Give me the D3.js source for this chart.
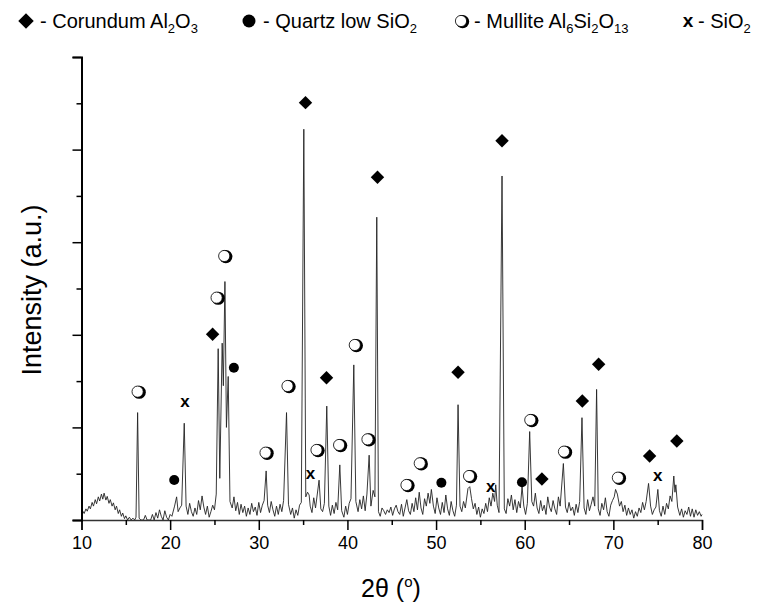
<!DOCTYPE html>
<meta charset="utf-8">
<style>
body { margin: 0; background: #fff; }
svg { font-family: "Liberation Sans", Arial, sans-serif; }
</style>
<svg width="762" height="606"></svg>
<script src="https://cdn.jsdelivr.net/npm/d3@7"></script>
<script>

// XRD scan, [2theta, intensity]
var scan = [
  [10.0,70],[10.15,95],[10.3,70],[10.5,120],[10.65,95],[10.85,150],[11.0,120],[11.2,190],[11.35,150],[11.55,220],
  [11.7,175],[11.9,250],[12.05,205],[12.25,280],[12.4,225],[12.55,290],[12.75,215],[12.9,255],[13.1,180],[13.25,220],
  [13.45,150],[13.6,185],[13.8,110],[13.95,150],[14.15,70],[14.3,110],[14.5,40],[14.65,75],[14.85,15],[15.0,45],
  [15.2,0],[15.4,30],[15.6,0],[15.8,20],
  [16.0,0],[16.15,30],[16.33,1160],[16.5,20],[16.7,0],[17.0,0],[17.2,50],[17.4,0],[17.8,0],[18.0,60],
  [18.2,0],[18.4,80],[18.6,20],[18.8,110],[19.0,40],[19.2,0],[19.4,100],[19.6,30],[19.8,0],[20.0,60],
  [20.2,40],[20.5,150],[20.73,250],[20.9,90],[21.1,130],[21.3,160],[21.59,1045],[21.8,150],[22.0,60],[22.2,180],
  [22.4,90],[22.6,40],[22.8,130],[23.0,60],[23.2,210],[23.4,110],[23.6,260],[23.8,140],[24.0,60],[24.2,150],
  [24.4,30],[24.6,90],[24.8,160],[25.0,110],[25.2,280],[25.42,1850],[25.6,450],[25.87,1910],[26.0,1450],[26.18,2575],
  [26.35,1000],[26.55,1550],[26.75,200],[27.0,130],[27.2,250],[27.4,100],[27.6,190],[27.8,60],[28.0,170],[28.2,80],
  [28.4,150],[28.6,40],[28.8,130],[29.0,60],[29.2,180],[29.4,90],[29.6,140],[29.8,50],[30.0,190],[30.2,80],
  [30.4,160],[30.6,210],[30.83,530],[31.0,160],[31.2,80],[31.4,200],[31.6,110],[31.8,40],[32.0,150],[32.2,60],
  [32.4,170],[32.6,90],[32.8,210],[33.13,1160],[33.35,170],[33.6,60],[33.8,130],[34.0,20],[34.2,110],[34.4,50],
  [34.6,160],[34.8,190],[35.08,4220],[35.3,250],[35.5,300],[35.68,270],[35.8,150],[36.0,80],[36.2,240],[36.4,130],
  [36.8,430],[37.0,120],[37.2,90],[37.4,180],[37.67,1230],[37.9,150],[38.1,50],[38.3,160],[38.5,70],[38.7,190],
  [38.9,110],[39.14,595],[39.35,100],[39.6,30],[39.8,150],[40.0,60],[40.2,180],[40.4,230],[40.72,1675],[40.95,200],
  [41.2,90],[41.4,220],[41.6,120],[41.8,260],[42.0,100],[42.2,280],[42.45,700],[42.65,150],[42.9,320],[43.1,250],
  [43.31,3270],[43.5,90],[43.7,40],[43.9,130],[44.1,100],[44.3,60],[44.5,110],[44.7,80],[44.9,140],[45.1,50],
  [45.3,120],[45.5,160],[45.7,90],[45.9,60],[46.1,170],[46.3,40],[46.5,130],[46.7,220],[46.9,100],[47.1,60],
  [47.3,180],[47.5,90],[47.7,240],[47.9,110],[48.1,300],[48.3,130],[48.5,60],[48.7,230],[48.9,150],[49.1,290],
  [49.3,180],[49.47,330],[49.7,150],[49.9,70],[50.1,240],[50.3,130],[50.5,60],[50.7,190],[50.9,80],[51.1,270],
  [51.3,120],[51.5,50],[51.7,200],[51.9,100],[52.1,40],[52.3,160],[52.48,1245],[52.7,150],[52.9,90],[53.1,200],
  [53.3,130],[53.6,340],[53.8,360],[54.0,230],[54.2,120],[54.4,180],[54.6,60],[54.8,140],[55.0,30],[55.2,120],
  [55.4,70],[55.6,180],[55.8,90],[56.0,240],[56.2,150],[56.4,290],[56.6,200],[56.73,380],[56.9,160],[57.1,80],
  [57.44,3715],[57.7,120],[57.9,70],[58.1,230],[58.3,150],[58.5,270],[58.7,110],[58.9,220],[59.1,80],[59.3,200],
  [59.5,130],[59.7,360],[59.9,150],[60.1,60],[60.3,180],[60.56,955],[60.8,200],[61.0,150],[61.2,290],[61.4,130],
  [61.6,70],[61.8,210],[62.0,100],[62.2,160],[62.4,60],[62.6,250],[62.8,140],[63.0,90],[63.2,210],[63.4,120],
  [63.6,60],[63.8,250],[64.0,150],[64.36,610],[64.6,140],[64.8,80],[65.0,190],[65.2,100],[65.4,140],[65.6,50],
  [65.8,170],[66.0,80],[66.2,200],[66.46,1105],[66.7,130],[66.9,60],[67.1,220],[67.3,100],[67.5,170],[67.7,250],
  [67.9,150],[68.11,1410],[68.3,120],[68.5,50],[68.7,180],[68.9,110],[69.1,240],[69.3,90],[69.5,40],[69.7,160],
  [69.9,210],[70.1,250],[70.25,330],[70.45,280],[70.7,150],[70.9,200],[71.1,90],[71.3,160],[71.5,50],[71.7,130],
  [71.9,60],[72.1,110],[72.3,20],[72.5,90],[72.7,40],[72.9,130],[73.1,80],[73.3,190],[73.5,110],[73.7,200],
  [73.97,395],[74.2,150],[74.4,60],[74.6,110],[74.8,140],[75.02,330],[75.2,100],[75.4,40],[75.6,150],[75.8,60],
  [76.0,180],[76.2,120],[76.4,260],[76.6,200],[76.82,475],[76.95,300],[77.05,380],[77.25,140],[77.5,50],[77.7,120],
  [77.9,30],[78.1,100],[78.3,60],[78.5,140],[78.7,40],[78.9,120],[79.1,30],[79.3,110],[79.5,50],[79.7,90],
  [79.9,40],[80.0,60]
];

// phase markers, [2theta, intensity] of the symbol
var corundum = [[24.79,2005],[35.27,4507],[37.64,1537],[43.39,3701],[52.48,1595],[57.44,4096],[61.94,443],[66.5,1285],[68.34,1681],[74.09,691],[77.16,853]];
var quartz = [[20.46,432],[27.19,1645],[50.6,403],[59.69,407]];
var mullite = [[16.33,1386],[25.24,2401],[26.1,2851],[30.76,727],[33.24,1447],[36.51,756],[39.06,810],[40.83,1890],[42.26,871],[46.66,378],[48.16,612],[53.72,475],[60.63,1080],[64.43,738],[70.51,457]];
var sio2 = [[21.67,1278],[35.84,497],[56.16,360],[75.02,475]];

var xTicks = [10, 20, 30, 40, 50, 60, 70, 80];
var xMinor = [15, 25, 35, 45, 55, 65, 75];
var yTicks = [0, 1000, 2000, 3000, 4000, 5000];
var yMinor = [500, 1500, 2500, 3500, 4500];

var svg = d3.select("svg");

var x = d3.scaleLinear().domain([10, 80]).range([81.5, 702]);
var y = d3.scaleLinear().domain([0, 5000]).range([520, 57]);

// scan line
svg.append("path")
  .datum(scan)
  .attr("fill", "none")
  .attr("stroke", "#222")
  .attr("stroke-width", 0.9)
  .attr("d", d3.line().x(function(d) { return x(d[0]); }).y(function(d) { return y(d[1]); }));

// axes
var xAxis = svg.append("g").attr("transform", "translate(0,520)");
xAxis.call(d3.axisBottom(x).tickValues(xTicks).tickSize(10).tickPadding(6).tickFormat(d3.format("d")));
xAxis.append("g").call(d3.axisBottom(x).tickValues(xMinor).tickSize(5).tickFormat(""));
xAxis.selectAll(".domain").attr("stroke", "#333").attr("stroke-width", 1.5);
xAxis.selectAll("line").attr("stroke", "#000").attr("stroke-width", 1.5);
xAxis.selectAll("text").attr("font-size", 18).attr("fill", "#000").attr("font-family", "Liberation Sans, Arial, sans-serif");
xAxis.selectAll("g g .domain").remove();

var yAxis = svg.append("g").attr("transform", "translate(81.5,0)");
yAxis.call(d3.axisLeft(y).tickValues(yTicks).tickSize(9).tickFormat(""));
yAxis.append("g").call(d3.axisLeft(y).tickValues(yMinor).tickSize(5).tickFormat(""));
yAxis.selectAll(".domain").attr("stroke", "#000").attr("stroke-width", 2);
yAxis.selectAll("g g .domain").remove();
yAxis.selectAll("line").attr("stroke", "#000").attr("stroke-width", 1.5);

// axis titles
svg.append("text")
  .attr("transform", "translate(41,290) rotate(-90)")
  .attr("text-anchor", "middle")
  .attr("font-size", 27)
  .text("Intensity (a.u.)");

var xt = svg.append("text")
  .attr("x", 391)
  .attr("y", 597)
  .attr("text-anchor", "middle")
  .attr("font-size", 25);
xt.append("tspan").text("2\u03b8 (");
xt.append("tspan").attr("font-size", 15).attr("dy", -10).text("o");
xt.append("tspan").attr("dy", 10).text(")");

// marker drawing
function diamond(g, cx, cy, s) {
  g.append("path")
    .attr("d", d3.symbol().type(d3.symbolSquare).size(s * s)())
    .attr("transform", "translate(" + cx + "," + cy + ") rotate(45)")
    .attr("fill", "#000");
}
function dot(g, cx, cy, r) {
  g.append("circle").attr("cx", cx).attr("cy", cy).attr("r", r).attr("fill", "#000");
}
function ring(g, cx, cy, r) {
  g.append("circle").attr("cx", cx + 1.6).attr("cy", cy + 0.6).attr("r", r + 0.6).attr("fill", "#000");
  g.append("circle").attr("cx", cx).attr("cy", cy).attr("r", r - 0.4)
    .attr("fill", "#fff").attr("stroke", "#000").attr("stroke-width", 0.8);
}
function cross(g, cx, cy, fs) {
  g.append("text").attr("x", cx).attr("y", cy + fs * 0.3)
    .attr("text-anchor", "middle").attr("font-weight", "bold").attr("font-size", fs).text("x");
}

var marks = svg.append("g");
corundum.forEach(function(d) { diamond(marks, x(d[0]), y(d[1]), 9.5); });
quartz.forEach(function(d) { dot(marks, x(d[0]), y(d[1]), 5); });
mullite.forEach(function(d) { ring(marks, x(d[0]), y(d[1]), 6); });
sio2.forEach(function(d) { cross(marks, x(d[0]), y(d[1]), 17); });

// legend
var legend = svg.append("g").attr("font-size", 20);
function label(px, parts) {
  var t = legend.append("text").attr("x", px).attr("y", 28);
  parts.forEach(function(p) {
    if (p[1] == "sub") {
      t.append("tspan").attr("font-size", 13).attr("dy", 5).text(p[0]);
    } else {
      t.append("tspan").attr("dy", p[1] == "back" ? -5 : 0).text(p[0]);
    }
  });
}
diamond(legend, 26, 21, 11);
label(40, [["- Corundum Al", ""], ["2", "sub"], ["O", "back"], ["3", "sub"]]);
dot(legend, 249, 21, 6.5);
label(263, [["- Quartz low SiO", ""], ["2", "sub"]]);
ring(legend, 461, 21, 6);
label(474, [["- Mullite Al", ""], ["6", "sub"], ["Si", "back"], ["2", "sub"], ["O", "back"], ["13", "sub"]]);
cross(legend, 688, 21, 19);
label(698, [["- SiO", ""], ["2", "sub"]]);

</script>
